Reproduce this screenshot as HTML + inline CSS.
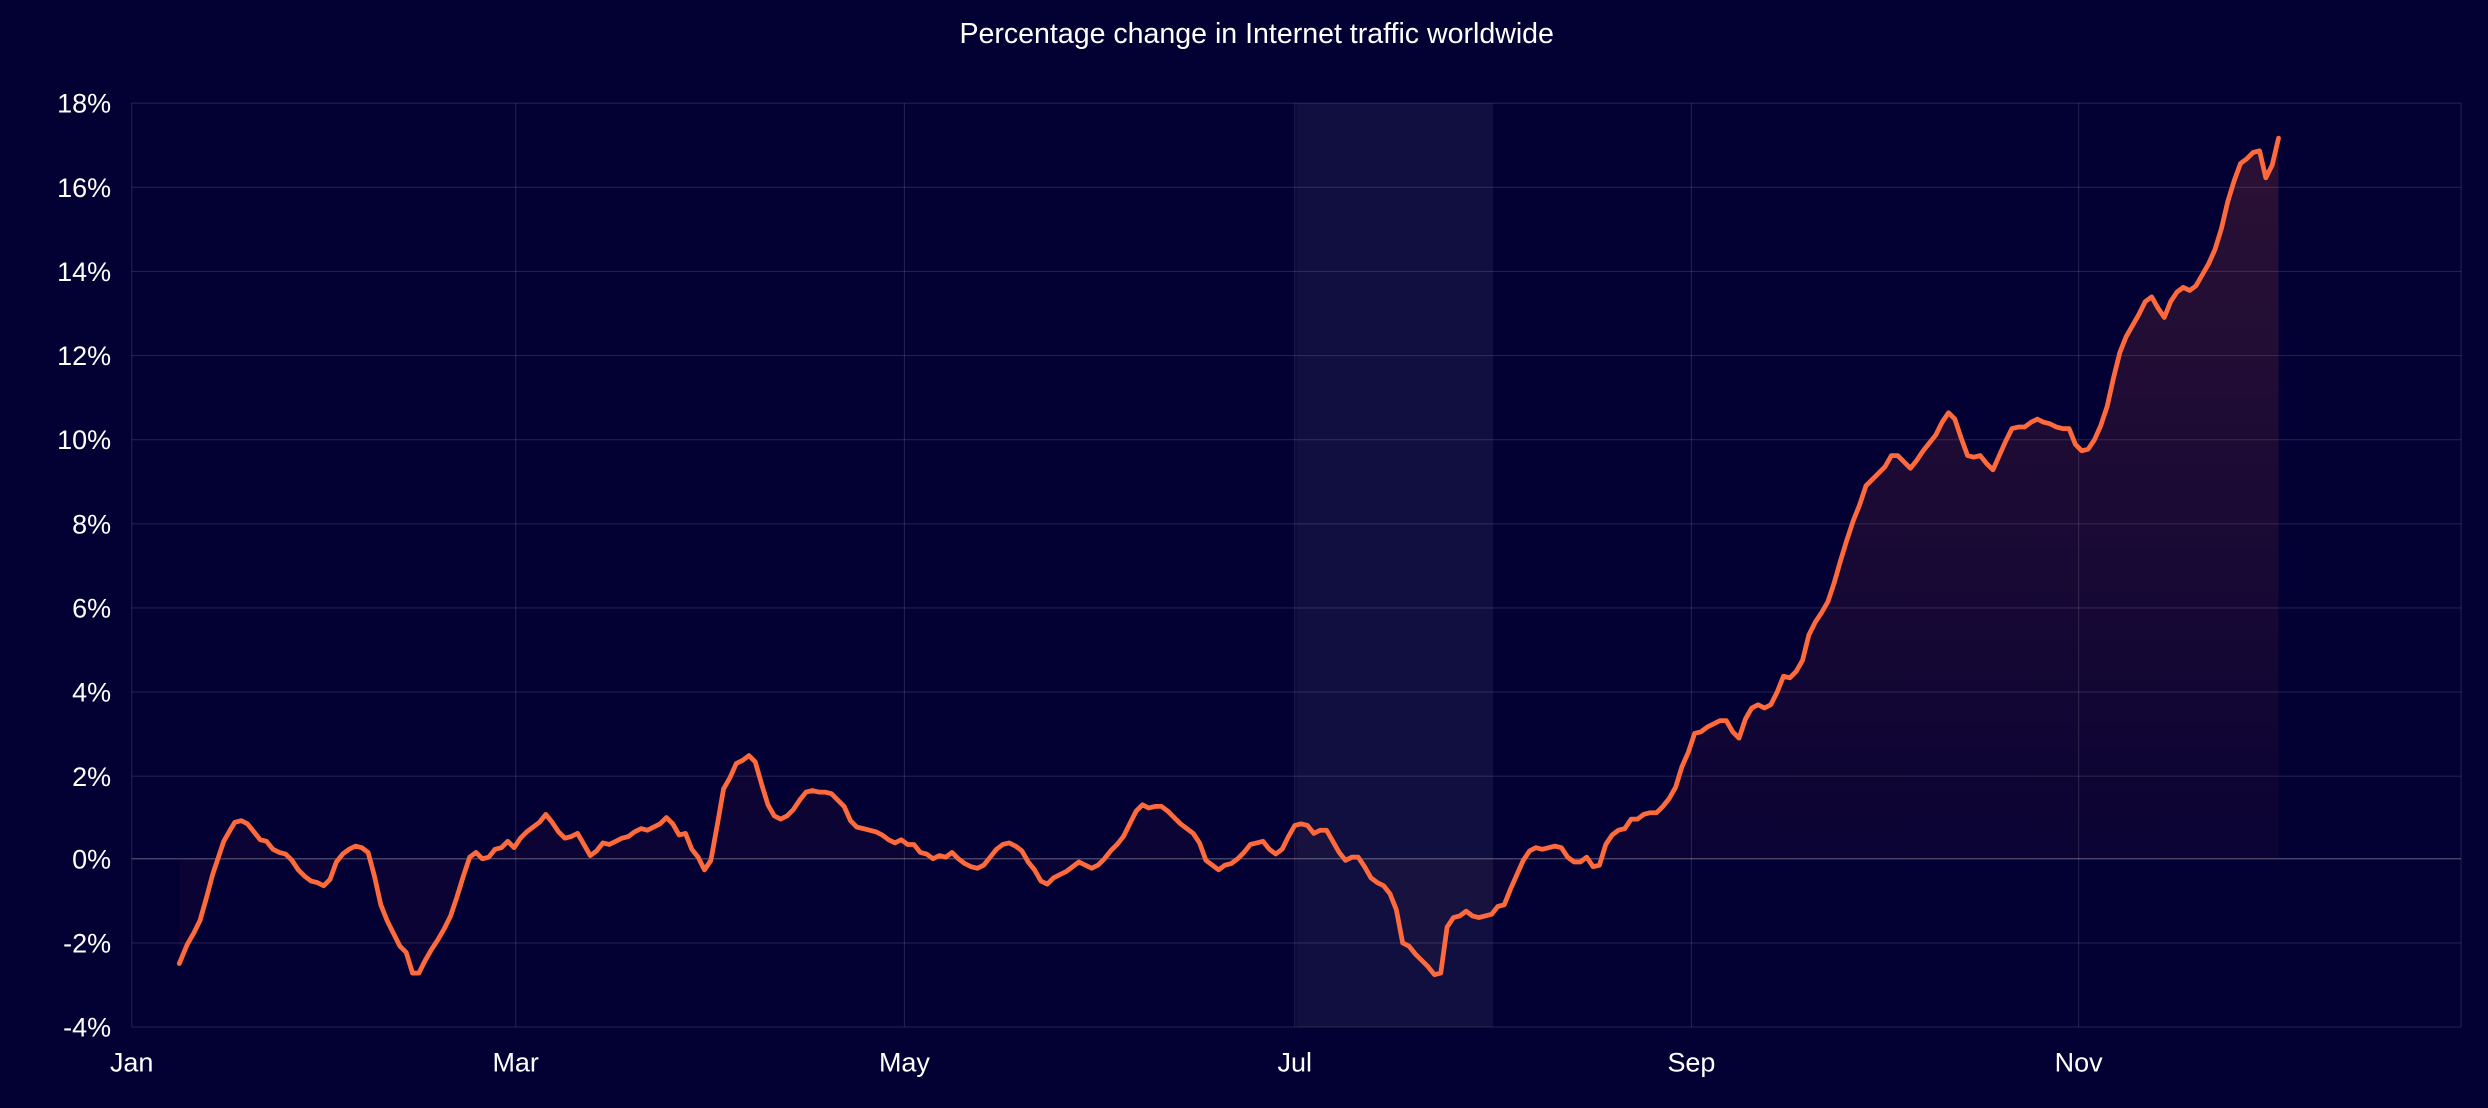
<!DOCTYPE html>
<html><head><meta charset="utf-8"><style>
html,body{margin:0;padding:0;background:#030033;}
svg{display:block;font-family:"Liberation Sans",sans-serif;}
</style></head><body>
<svg width="2488" height="1108" viewBox="0 0 1568 698" preserveAspectRatio="none" xmlns="http://www.w3.org/2000/svg">
<defs>
<linearGradient id="g" x1="0" y1="87" x2="0" y2="541" gradientUnits="userSpaceOnUse">
<stop offset="0" stop-color="#ff6a3d" stop-opacity="0.16"/>
<stop offset="1" stop-color="#ff6a3d" stop-opacity="0.03"/>
</linearGradient>
</defs>
<rect width="1568" height="698" fill="#030033"/>
<text x="792" y="27" fill="#fff" font-size="18" text-anchor="middle">Percentage change in Internet traffic worldwide</text>
<rect x="817" y="65" width="124" height="582" fill="#ffffff" fill-opacity="0.06"/>
<g stroke="#ffffff" stroke-opacity="0.12" stroke-width="0.7">
<line x1="83" y1="65" x2="1551" y2="65"/><line x1="83" y1="118" x2="1551" y2="118"/><line x1="83" y1="171" x2="1551" y2="171"/><line x1="83" y1="224" x2="1551" y2="224"/><line x1="83" y1="277" x2="1551" y2="277"/><line x1="83" y1="330" x2="1551" y2="330"/><line x1="83" y1="383" x2="1551" y2="383"/><line x1="83" y1="436" x2="1551" y2="436"/><line x1="83" y1="489" x2="1551" y2="489"/><line x1="83" y1="594" x2="1551" y2="594"/><line x1="83" y1="647" x2="1551" y2="647"/>
<line x1="83" y1="65" x2="83" y2="647"/><line x1="325" y1="65" x2="325" y2="647"/><line x1="570" y1="65" x2="570" y2="647"/><line x1="816" y1="65" x2="816" y2="647"/><line x1="1066" y1="65" x2="1066" y2="647"/><line x1="1310" y1="65" x2="1310" y2="647"/><line x1="1551" y1="65" x2="1551" y2="647"/>
</g>
<line x1="83" y1="541" x2="1551" y2="541" stroke="#ffffff" stroke-opacity="0.3" stroke-width="0.8"/>
<g fill="#fff" font-size="17" text-anchor="end">
<text x="70" y="71">18%</text><text x="70" y="124">16%</text><text x="70" y="177">14%</text><text x="70" y="230">12%</text><text x="70" y="283">10%</text><text x="70" y="336">8%</text><text x="70" y="389">6%</text><text x="70" y="442">4%</text><text x="70" y="495">2%</text><text x="70" y="547">0%</text><text x="70" y="600">-2%</text><text x="70" y="653">-4%</text>
</g>
<g fill="#fff" font-size="17" text-anchor="middle">
<text x="83" y="675">Jan</text><text x="325" y="675">Mar</text><text x="570" y="675">May</text><text x="816" y="675">Jul</text><text x="1066" y="675">Sep</text><text x="1310" y="675">Nov</text>
</g>
<path id="p" fill="url(#g)" stroke="none" d=""/>
<polyline id="l" fill="none" stroke="#ff6a3d" stroke-width="3" stroke-linejoin="round" stroke-linecap="round" points=""/>
<script>
var pts=[[113,607],[118,595],[122,588],[126,580],[130,566],[134,551],[138,539],[141,530],[145,523],[148,518],[152,517],[156,519],[160,524],[164,529],[168,530],[172,535],[176,537],[180,538],[184,542],[188,548],[192,552],[196,555],[200,556],[204,558],[208,554],[212,543],[216,538],[220,535],[224,533],[228,534],[232,537],[236,552],[240,570],[244,580],[248,588],[252,596],[256,600],[260,613],[264,613],[268,605],[272,598],[276,592],[280,585],[284,577],[288,565],[292,552],[296,540],[300,537],[304,541],[308,540],[312,535],[316,534],[320,530],[324,534],[328,528],[332,524],[336,521],[340,518],[344,513],[348,518],[352,524],[356,528],[360,527],[364,525],[368,532],[372,539],[376,536],[380,531],[384,532],[388,530],[392,528],[396,527],[400,524],[404,522],[408,523],[412,521],[416,519],[420,515],[424,519],[428,526],[432,525],[436,535],[440,540],[444,548],[448,542],[452,520],[456,497],[460,490],[464,481],[468,479],[472,476],[476,480],[480,494],[484,507],[488,514],[492,516],[496,514],[500,510],[504,504],[508,499],[512,498],[516,499],[520,499],[524,500],[528,504],[532,508],[536,517],[540,521],[544,522],[548,523],[552,524],[556,526],[560,529],[564,531],[568,529],[572,532],[576,532],[580,537],[584,538],[588,541],[592,539],[596,540],[600,537],[604,541],[608,544],[612,546],[616,547],[620,545],[624,540],[628,535],[632,532],[636,531],[640,533],[644,536],[648,543],[652,548],[656,555],[660,557],[664,553],[668,551],[672,549],[676,546],[680,543],[684,545],[688,547],[692,545],[696,541],[700,536],[704,532],[708,527],[712,519],[716,511],[720,507],[724,509],[728,508],[732,508],[736,511],[740,515],[744,519],[748,522],[752,525],[756,531],[760,542],[764,545],[768,548],[772,545],[776,544],[780,541],[784,537],[788,532],[792,531],[796,530],[800,535],[804,538],[808,535],[812,527],[816,520],[820,519],[824,520],[828,525],[832,523],[836,523],[840,530],[844,537],[848,542],[852,540],[856,540],[860,546],[864,553],[868,556],[872,558],[876,563],[880,573],[884,594],[888,596],[892,601],[896,605],[900,609],[904,614],[908,613],[912,584],[916,578],[920,577],[924,574],[928,577],[932,578],[936,577],[940,576],[944,571],[948,570],[952,560],[956,551],[960,542],[964,536],[968,534],[972,535],[976,534],[980,533],[984,534],[988,540],[992,543],[996,543],[1000,540],[1004,546],[1008,545],[1012,532],[1016,526],[1020,523],[1024,522],[1028,516],[1032,516],[1036,513],[1040,512],[1044,512],[1048,508],[1052,503],[1056,496],[1060,483],[1064,474],[1068,462],[1072,461],[1076,458],[1080,456],[1084,454],[1088,454],[1092,461],[1096,465],[1100,453],[1104,446],[1108,444],[1112,446],[1116,444],[1120,436],[1124,426],[1128,427],[1132,423],[1136,416],[1140,400],[1144,392],[1148,386],[1152,379],[1156,367],[1160,353],[1164,340],[1168,328],[1172,318],[1176,306],[1180,302],[1184,298],[1188,294],[1192,287],[1196,287],[1200,291],[1204,295],[1208,290],[1212,284],[1216,279],[1220,274],[1224,266],[1228,260],[1232,264],[1236,276],[1240,287],[1244,288],[1248,287],[1252,292],[1256,296],[1260,287],[1264,278],[1268,270],[1272,269],[1276,269],[1280,266],[1284,264],[1288,266],[1292,267],[1296,269],[1300,270],[1304,270],[1308,280],[1312,284],[1316,283],[1320,277],[1324,268],[1328,256],[1332,238],[1336,222],[1340,212],[1344,205],[1348,198],[1352,190],[1356,187],[1360,194],[1364,200],[1368,190],[1372,184],[1376,181],[1380,183],[1384,180],[1388,173],[1392,166],[1396,157],[1400,144],[1404,127],[1408,114],[1412,103],[1416,100],[1420,96],[1424,95],[1428,112],[1432,104],[1436,87]];
var s=pts.map(function(p){return p[0]+","+p[1]}).join(" ");
document.getElementById("l").setAttribute("points",s);
document.getElementById("p").setAttribute("d","M113,541 L"+s.split(" ").join(" L")+" L1436,541 Z");
</script>
</svg>
</body></html>
